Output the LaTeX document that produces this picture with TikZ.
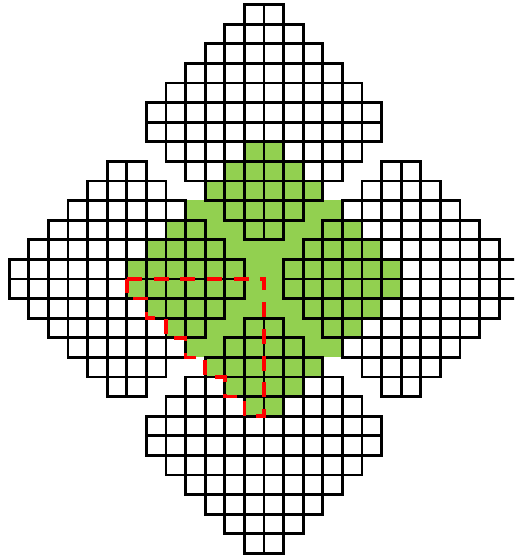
\documentclass[tikz,border=0pt]{standalone}
\definecolor{leaf}{HTML}{92D050}
\begin{document}
\begin{tikzpicture}[x=1cm,y=1cm,
  gridline/.style={line width=4.1pt, line cap=rect, black},
  cutline/.style={red, line width=5pt, dash pattern=on 21.8pt off 17pt}]
\useasboundingbox (-13.47,-14.286) rectangle (12.755,14.235);
\clip (-13.47,-14.286) rectangle (12.755,14.235);
% green Aztec diamond of order 7
\foreach \j in {-7,...,6}{
  \pgfmathtruncatemacro{\k}{\j<0 ? 8+\j : 7-\j}
  \pgfmathsetmacro{\ya}{\j}
  \pgfmathsetmacro{\yb}{\j+1.02}
  \fill[leaf] (-\k,\ya) rectangle (\k,\yb);
}
% four grid diamonds of order 6
\foreach \cx/\cy in {0/8,-7/0,7/0,0/-8}{
  \foreach \j in {-6,...,5}{
    \pgfmathtruncatemacro{\k}{\j<0 ? 7+\j : 6-\j}
    \pgfmathsetmacro{\xa}{\cx-\k}
    \pgfmathsetmacro{\xb}{\cx+\k}
    \pgfmathsetmacro{\ya}{\cy+\j}
    \pgfmathsetmacro{\yb}{\cy+\j+1}
    \draw[gridline] (\xa,\ya) grid (\xb,\yb);
  }
}
% red dashed quadrant
\draw[cutline] (-7,0) -- (0,0) -- (0,-7) -- (-1,-7) -- (-1,-6) -- (-2,-6) -- (-2,-5)
  -- (-3,-5) -- (-3,-4) -- (-4,-4) -- (-4,-3) -- (-5,-3) -- (-5,-2) -- (-6,-2)
  -- (-6,-1) -- (-7,-1) -- cycle;
\end{tikzpicture}
\end{document}
